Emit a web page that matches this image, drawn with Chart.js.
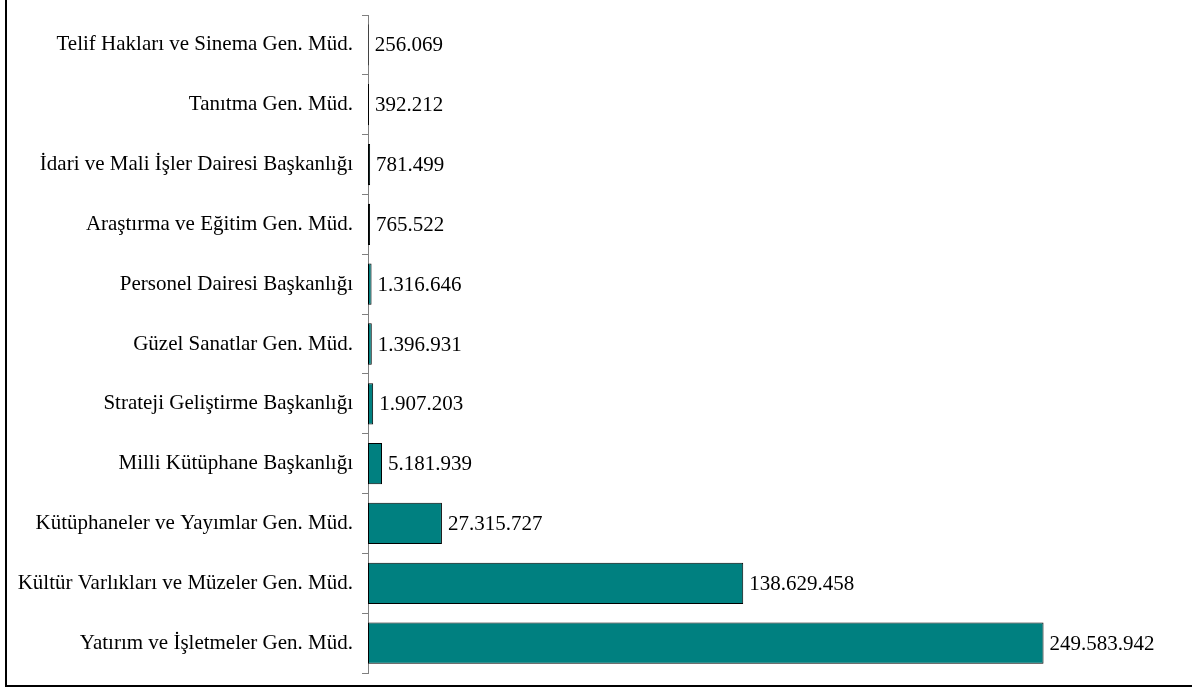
<!DOCTYPE html>
<html>
<head>
<meta charset="utf-8">
<script src="https://cdn.jsdelivr.net/npm/chart.js@4"></script>
<style>
  html, body { margin: 0; padding: 0; background: #fff; }
  #wrap { position: relative; width: 1192px; height: 691px; overflow: hidden; }
  #frame {
    position: absolute; left: 5px; top: -4px; width: 1200px; height: 691px;
    border-left: 2px solid #000; border-bottom: 2px solid #000; box-sizing: border-box;
    pointer-events: none;
  }
  canvas { position: absolute; left: 0; top: 0; }
</style>
</head>
<body>
<div id="wrap">
  <canvas id="myChart" width="1192" height="691"></canvas>
  <div id="frame"></div>
</div>
<script>
var units = [
    'Telif Hakları ve Sinema Gen. Müd.',
    'Tanıtma Gen. Müd.',
    'İdari ve Mali İşler Dairesi Başkanlığı',
    'Araştırma ve Eğitim Gen. Müd.',
    'Personel Dairesi Başkanlığı',
    'Güzel Sanatlar Gen. Müd.',
    'Strateji Geliştirme Başkanlığı',
    'Milli Kütüphane Başkanlığı',
    'Kütüphaneler ve Yayımlar Gen. Müd.',
    'Kültür Varlıkları ve Müzeler Gen. Müd.',
    'Yatırım ve İşletmeler Gen. Müd.'
];
var amounts = [256069, 392212, 781499, 765522, 1316646, 1396931, 1907203, 5181939, 27315727, 138629458, 249583942];

var serif = "'Times New Roman', 'Liberation Serif', serif";

function trNumber(v) {
    return String(v).replace(/\B(?=(\d{3})+(?!\d))/g, '.');
}

// degerleri cubuklarin sagina yaz
var valueLabels = {
    id: 'valueLabels',
    afterDatasetsDraw: function(chart) {
        var ctx = chart.ctx;
        var meta = chart.getDatasetMeta(0);
        ctx.save();
        ctx.font = '21px ' + serif;
        ctx.fillStyle = '#000';
        ctx.textAlign = 'left';
        ctx.textBaseline = 'middle';
        meta.data.forEach(function(bar, i) {
            ctx.fillText(trNumber(amounts[i]), bar.x + 6, bar.y + 1);
        });
        ctx.restore();
    }
};

var ctx = document.getElementById('myChart').getContext('2d');
new Chart(ctx, {
    type: 'bar',
    data: {
        labels: units,
        datasets: [{
            data: amounts,
            backgroundColor: '#008080',
            borderColor: '#000',
            borderWidth: 1,
            borderSkipped: false,
            categoryPercentage: 1,
            barPercentage: 0.69
        }]
    },
    plugins: [valueLabels],
    options: {
        indexAxis: 'y',
        responsive: false,
        animation: false,
        layout: { padding: { top: 15, bottom: 18, right: 12, left: 0 } },
        plugins: {
            legend: { display: false },
            tooltip: { enabled: false }
        },
        scales: {
            x: {
                display: false,
                min: 0,
                max: 300000000
            },
            y: {
                afterFit: function(scale) {
                    scale.width = 368;
                    scale.paddingTop = 0;
                    scale.paddingBottom = 0;
                },
                grid: {
                    drawOnChartArea: false,
                    tickLength: 6,
                    color: '#808080',
                    offset: true
                },
                border: { color: '#808080', width: 1 },
                ticks: {
                    color: '#000',
                    padding: 9,
                    font: { family: serif, size: 21 }
                }
            }
        }
    }
});
</script>
</body>
</html>
